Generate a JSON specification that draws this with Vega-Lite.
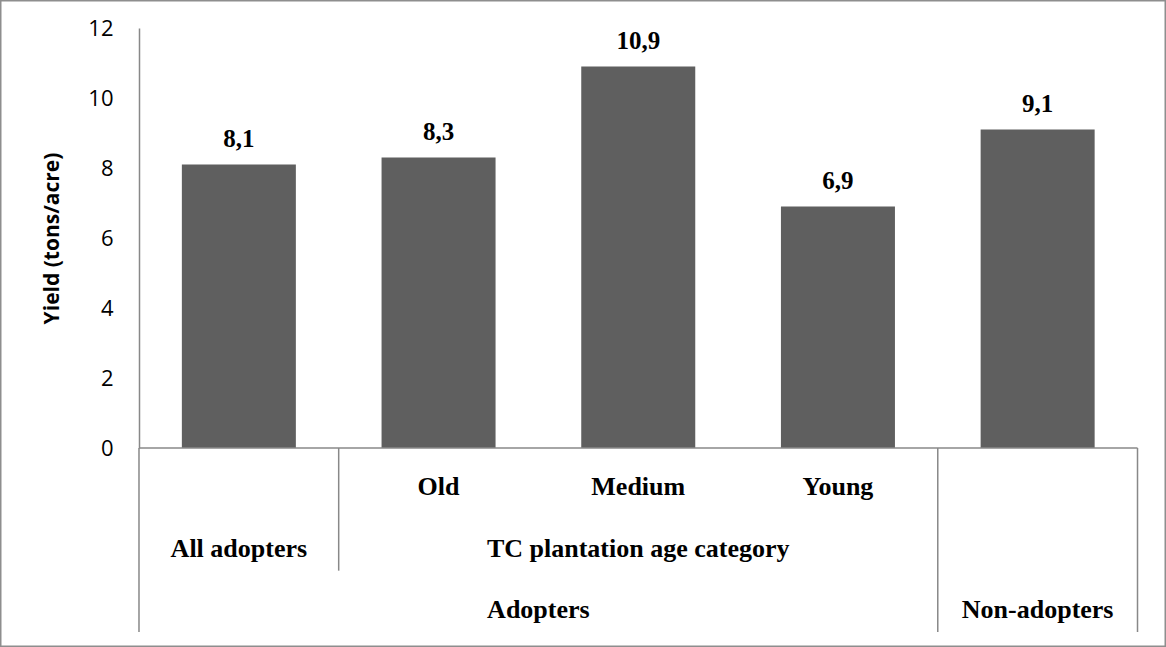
{
  "$schema": "https://vega.github.io/schema/vega-lite/v6.json",
  "width": 1166,
  "height": 647,
  "autosize": {"type": "none"},
  "padding": 0,
  "background": "white",
  "config": {
    "view": {"stroke": "#8e8e8e", "strokeWidth": 3},
    "locale": {"number": {"decimal": ",", "thousands": ".", "grouping": [3], "currency": ["", ""]}}
  },
  "datasets": {
    "bars": [
      {"group": "All adopters", "yield": 8.1},
      {"group": "Old", "yield": 8.3},
      {"group": "Medium", "yield": 10.9},
      {"group": "Young", "yield": 6.9},
      {"group": "Non-adopters", "yield": 9.1}
    ],
    "cats": [
      {"label": "Old", "level": 1, "anchor": "Old", "place": "center"},
      {"label": "Medium", "level": 1, "anchor": "Medium", "place": "center"},
      {"label": "Young", "level": 1, "anchor": "Young", "place": "center"},
      {"label": "All adopters", "level": 2, "anchor": "All adopters", "place": "center"},
      {"label": "TC plantation age category", "level": 2, "anchor": "Medium", "place": "center"},
      {"label": "Adopters", "level": 3, "anchor": "Medium", "place": "edge"},
      {"label": "Non-adopters", "level": 3, "anchor": "Non-adopters", "place": "center"}
    ],
    "dividers": [
      {"anchor": "All adopters", "top": 0, "bottom": 3, "side": "left"},
      {"anchor": "Old", "top": 0, "bottom": 2, "side": "left"},
      {"anchor": "Non-adopters", "top": 0, "bottom": 3, "side": "left"},
      {"anchor": "Non-adopters", "top": 0, "bottom": 3, "side": "right"}
    ],
    "base": [{"from": "All adopters", "to": "Non-adopters", "depth": 0}]
  },
  "layer": [
    {
      "layer": [
        {
          "data": {"name": "bars"},
          "mark": {"type": "bar", "color": "#5f5f5f"},
          "encoding": {
            "x": {"field": "group", "type": "nominal", "axis": null,
                  "scale": {"type": "band", "domain": ["All adopters", "Old", "Medium", "Young", "Non-adopters"], "paddingInner": 0.4291, "paddingOuter": 0.634, "align": 0.7182}},
            "y": {"field": "yield", "type": "quantitative",
                  "scale": {"domain": [0, 12], "range": [448, 28], "nice": false, "zero": true},
                  "axis": {"title": "Yield (tons/acre)", "offset": -139, "values": [0, 2, 4, 6, 8, 10, 12], "format": "d",
                           "grid": false, "ticks": false, "domainColor": "#888888", "domainWidth": 1.5,
                           "labelFont": "Open Sans", "labelFontSize": 22, "labelColor": "black", "labelPadding": 26,
                           "titleFont": "Open Sans", "titleFontSize": 21, "titleFontWeight": "bold", "titleColor": "black", "titlePadding": 25}}
          }
        },
        {
          "data": {"name": "bars"},
          "mark": {"type": "text", "font": "Liberation Serif", "fontWeight": "bold", "fontSize": 25, "baseline": "alphabetic", "dy": -18, "color": "black"},
          "encoding": {
            "x": {"field": "group", "type": "nominal", "axis": null,
                  "scale": {"type": "band", "domain": ["All adopters", "Old", "Medium", "Young", "Non-adopters"], "paddingInner": 0.4291, "paddingOuter": 0.634, "align": 0.7182}},
            "y": {"field": "yield", "type": "quantitative"},
            "text": {"field": "yield", "type": "quantitative", "format": ".1f"}
          }
        }
      ]
    },
    {
      "layer": [
        {
          "data": {"name": "dividers"},
          "transform": [{"filter": "datum.side === 'left'"}],
          "mark": {"type": "rule", "color": "#888888", "strokeWidth": 1.5},
          "encoding": {
            "x": {"field": "anchor", "type": "nominal", "axis": null, "bandPosition": -0.376,
                  "scale": {"type": "band", "domain": ["All adopters", "Old", "Medium", "Young", "Non-adopters"], "paddingInner": 0.4291, "paddingOuter": 0.634, "align": 0.7182}},
            "y": {"field": "top", "type": "quantitative", "axis": null, "scale": {"domain": [0, 3], "range": [448, 632], "nice": false, "zero": false}},
            "y2": {"field": "bottom"}
          }
        },
        {
          "data": {"name": "dividers"},
          "transform": [{"filter": "datum.side === 'right'"}],
          "mark": {"type": "rule", "color": "#888888", "strokeWidth": 1.5},
          "encoding": {
            "x": {"field": "anchor", "type": "nominal", "axis": null, "bandPosition": 1.376},
            "y": {"field": "top", "type": "quantitative", "axis": null},
            "y2": {"field": "bottom"}
          }
        },
        {
          "data": {"name": "base"},
          "mark": {"type": "rule", "color": "#888888", "strokeWidth": 1.5},
          "encoding": {
            "x": {"field": "from", "type": "nominal", "axis": null, "bandPosition": -0.376},
            "x2": {"field": "to", "bandPosition": 1.376},
            "y": {"field": "depth", "type": "quantitative", "axis": null}
          }
        },
        {
          "data": {"name": "cats"},
          "transform": [{"filter": "datum.place === 'center'"}],
          "mark": {"type": "text", "font": "Liberation Serif", "fontWeight": "bold", "fontSize": 26, "baseline": "alphabetic", "dy": -14, "color": "black"},
          "encoding": {
            "x": {"field": "anchor", "type": "nominal", "axis": null},
            "y": {"field": "level", "type": "quantitative", "axis": null},
            "text": {"field": "label"}
          }
        },
        {
          "data": {"name": "cats"},
          "transform": [{"filter": "datum.place === 'edge'"}],
          "mark": {"type": "text", "font": "Liberation Serif", "fontWeight": "bold", "fontSize": 26, "baseline": "alphabetic", "dy": -14, "color": "black"},
          "encoding": {
            "x": {"field": "anchor", "type": "nominal", "axis": null, "bandPosition": -0.376},
            "y": {"field": "level", "type": "quantitative", "axis": null},
            "text": {"field": "label"}
          }
        }
      ]
    }
  ],
  "resolve": {"scale": {"y": "independent"}}
}
